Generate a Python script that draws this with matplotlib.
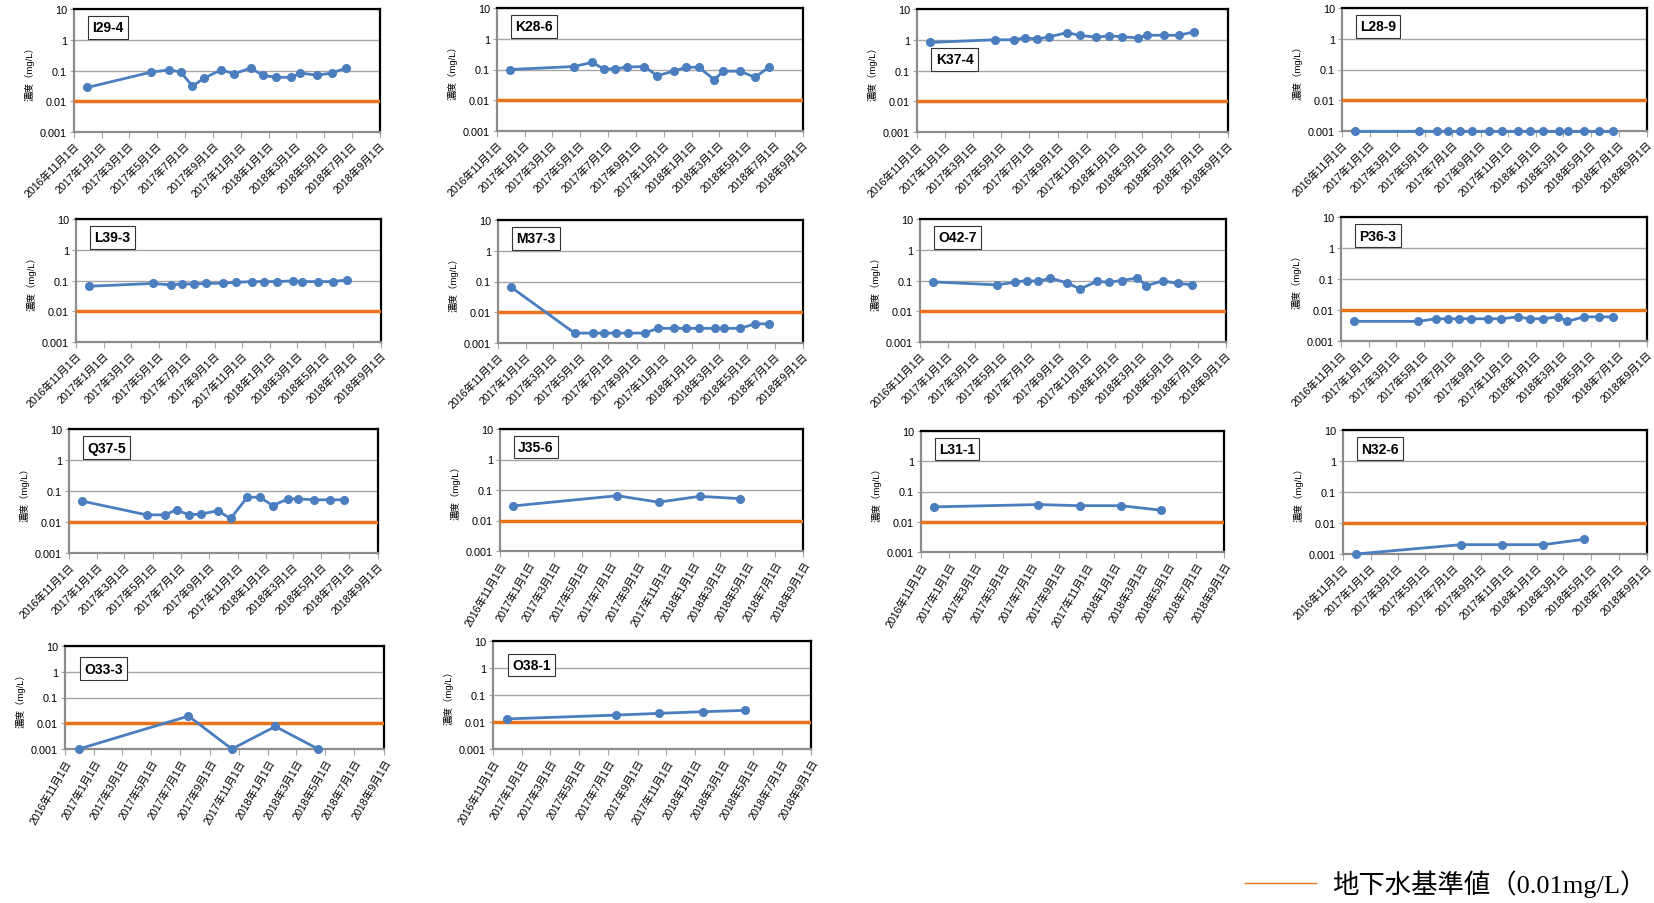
import matplotlib
matplotlib.use("Agg")
import matplotlib.pyplot as plt
from matplotlib.lines import Line2D
from matplotlib.ticker import NullLocator
import pandas as pd

# ---------------------------
# DATOS
# ---------------------------

FECHAS_16 = ["2016-11-30", "2017-04-18", "2017-05-28", "2017-06-22", "2017-07-18",
             "2017-08-13", "2017-09-19", "2017-10-17", "2017-11-22", "2017-12-19",
             "2018-01-16", "2018-02-19", "2018-03-11", "2018-04-16", "2018-05-19",
             "2018-06-19"]
FECHAS_5 = ["2016-11-30", "2017-07-18", "2017-10-17", "2018-01-16", "2018-04-16"]

I29_4 = [0.028, 0.088, 0.105, 0.09, 0.031, 0.057, 0.105, 0.078, 0.12, 0.07, 0.06, 0.06, 0.083, 0.07, 0.083, 0.12]
K28_6 = [0.1, 0.125, 0.17, 0.105, 0.105, 0.12, 0.125, 0.063, 0.088, 0.118, 0.118, 0.047, 0.088, 0.088, 0.056, 0.12]
K37_4 = [0.82, 1.0, 1.0, 1.15, 1.05, 1.25, 1.7, 1.4, 1.2, 1.35, 1.25, 1.15, 1.4, 1.4, 1.4, 1.8]
L28_9 = [0.001, 0.001, 0.001, 0.001, 0.001, 0.001, 0.001, 0.001, 0.001, 0.001, 0.001, 0.001, 0.001, 0.001, 0.001, 0.001]
L39_3 = [0.065, 0.08, 0.072, 0.077, 0.077, 0.08, 0.082, 0.087, 0.092, 0.092, 0.092, 0.097, 0.092, 0.092, 0.092, 0.105]
M37_3 = [0.065, 0.0021, 0.0021, 0.0021, 0.0021, 0.0021, 0.0021, 0.003, 0.003, 0.003, 0.003, 0.003, 0.003, 0.003, 0.0042, 0.0042]
O42_7 = [0.09, 0.072, 0.088, 0.1, 0.093, 0.12, 0.083, 0.053, 0.093, 0.088, 0.1, 0.12, 0.068, 0.097, 0.08, 0.073]
P36_3 = [0.0043, 0.0043, 0.0052, 0.0052, 0.0052, 0.0052, 0.0052, 0.0052, 0.006, 0.0052, 0.0052, 0.006, 0.0043, 0.006, 0.006, 0.006]
Q37_5 = [0.047, 0.017, 0.017, 0.025, 0.017, 0.018, 0.023, 0.013, 0.063, 0.063, 0.034, 0.056, 0.056, 0.052, 0.052, 0.052]
J35_6 = [0.03, 0.065, 0.04, 0.062, 0.052]
L31_1 = [0.031, 0.037, 0.034, 0.034, 0.024]
N32_6 = [0.001, 0.002, 0.002, 0.002, 0.003]
O33_3 = [0.001, 0.019, 0.001, 0.0075, 0.001]
O38_1 = [0.013, 0.018, 0.021, 0.024, 0.027]

NOMBRES = ["I29-4", "K28-6", "K37-4", "L28-9",
           "L39-3", "M37-3", "O42-7", "P36-3",
           "Q37-5", "J35-6", "L31-1", "N32-6",
           "O33-3", "O38-1"]
SERIES = [I29_4, K28_6, K37_4, L28_9, L39_3, M37_3, O42_7, P36_3,
          Q37_5, J35_6, L31_1, N32_6, O33_3, O38_1]

BASE = 0.01
Y_TICKS = [0.001, 0.01, 0.1, 1, 10]
Y_LABELS = ["0.001", "0.01", "0.1", "1", "10"]
X_INI = "2016-11-01"
X_FIN = "2018-09-01"

# ---------------------------
# CONFIGURACIÓN
# ---------------------------

W, H = 1654, 904
AZUL = "#4a7ebf"
NARANJA = "#e8731a"
GRIS = "#a6a6a6"

plt.rcParams["font.family"] = ["Liberation Sans", "Noto Sans CJK JP", "DejaVu Sans"]

# posición de cada gráfico en píxeles: izq, arriba, der, abajo
POSICIONES = [
    (74, 10, 380, 133), (497, 9, 803, 132), (917, 10, 1228, 133), (1342, 9, 1647, 132),
    (76, 220, 381, 343), (498, 221, 803, 344), (920, 220, 1226, 343), (1341, 218, 1647, 342),
    (69, 430, 378, 554), (500, 430, 803, 552), (921, 432, 1224, 553), (1343, 431, 1647, 555),
    (65, 647, 384, 750), (493, 642, 811, 750),
]
ROTACION = [45] * 9 + [60, 60, 45, 60, 60]
POS_ETIQUETA = [0.85, 0.85, 0.59, 0.85, 0.85, 0.85, 0.85, 0.85,
                0.85, 0.85, 0.85, 0.85, 0.78, 0.78]


def config_axes(ax, rot):
    ax.set_yscale("log")
    ax.set_ylim(0.001, 10)
    ax.set_yticks(Y_TICKS)
    ax.set_yticklabels(Y_LABELS)
    ax.yaxis.set_minor_locator(NullLocator())
    ticks = pd.date_range(X_INI, X_FIN, freq="2MS")
    ax.set_xlim(pd.Timestamp(X_INI), pd.Timestamp(X_FIN))
    ax.set_xticks(ticks)
    ax.set_xticklabels([f"{t.year}年{t.month}月1日" for t in ticks],
                       rotation=rot, ha="right", rotation_mode="anchor", fontsize=7.7)
    ax.tick_params(axis="y", labelsize=7.8, length=3, color=GRIS, pad=2)
    ax.tick_params(axis="x", length=4, color=GRIS, pad=2)
    ax.grid(axis="y", color=GRIS, lw=1)
    ax.set_axisbelow(True)
    for lado in ["top", "right"]:
        ax.spines[lado].set_color("black")
        ax.spines[lado].set_linewidth(1.6)
    for lado in ["left", "bottom"]:
        ax.spines[lado].set_color("#8c8c8c")
        ax.spines[lado].set_linewidth(1.6)
    ax.set_ylabel("濃度（mg/L）", fontsize=6.8, labelpad=4)


fig = plt.figure(figsize=(W / 100, H / 100), dpi=100)

for i, (nombre, valores) in enumerate(zip(NOMBRES, SERIES)):
    l, t, r, b = POSICIONES[i]
    ax = fig.add_axes([l / W, 1 - b / H, (r - l) / W, (b - t) / H])
    config_axes(ax, ROTACION[i])
    fechas = FECHAS_16 if len(valores) == 16 else FECHAS_5
    ax.axhline(BASE, color=NARANJA, lw=2.5, zorder=3)
    ax.plot(pd.to_datetime(fechas), valores, color=AZUL, lw=2, marker="o",
            ms=5.5, zorder=4, clip_on=False)
    ax.text(0.06, POS_ETIQUETA[i], nombre, transform=ax.transAxes, fontsize=10,
            fontweight="bold", va="center", ha="left", zorder=5,
            bbox=dict(boxstyle="square,pad=0.3", fc="white", ec="#333333", lw=0.8))

handle = Line2D([0], [0], color=NARANJA, lw=1)
fig.legend(handles=[handle], labels=["地下水基準値（0.01mg/L）"], loc="center right",
           bbox_to_anchor=(1646 / W, 1 - 884 / H), frameon=False,
           prop={"family": ["Liberation Serif", "Noto Sans CJK JP"], "size": 19},
           handlelength=2.7, handletextpad=0.6, borderaxespad=0, borderpad=0)

fig.savefig("out.png", dpi=100)
